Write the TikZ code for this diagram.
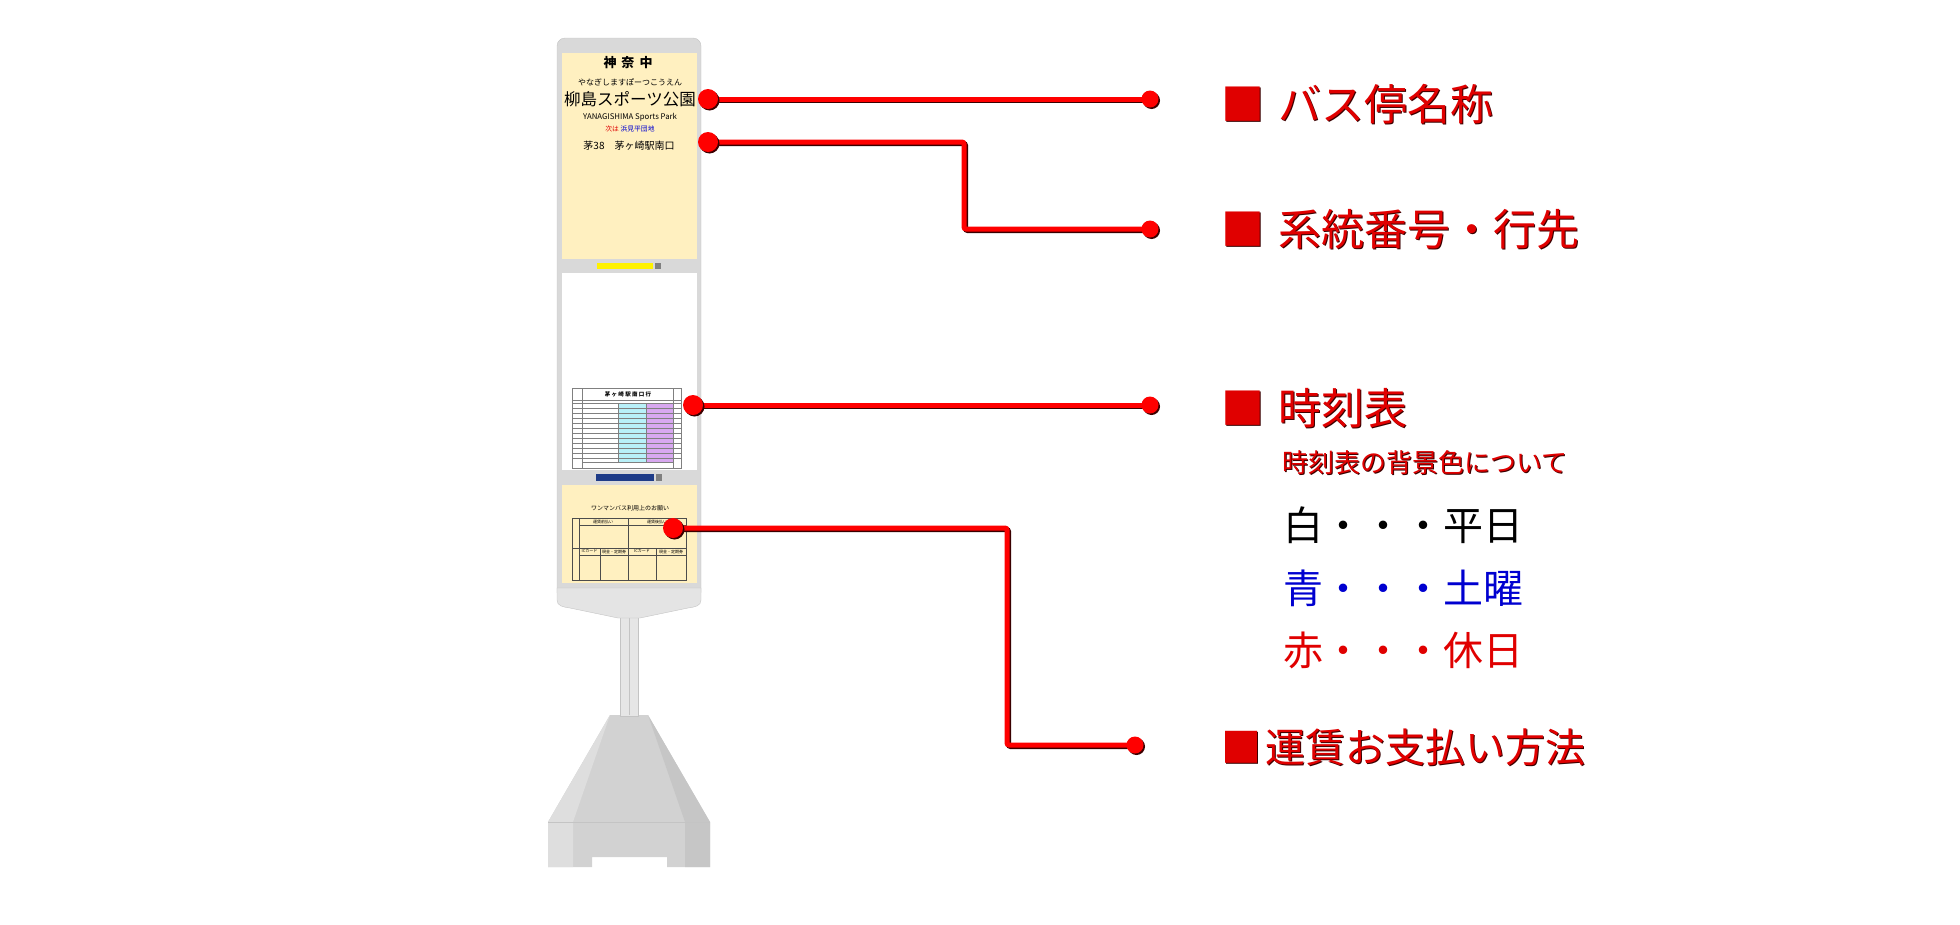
\documentclass[tikz,border=0pt]{standalone}
\usepackage{fontspec}
\newfontfamily\jp{Noto Sans CJK JP}
\usepackage{tikz}
\usetikzlibrary{shadows}
\definecolor{linered}{HTML}{FF0000}
\definecolor{textred}{HTML}{E00000}
\definecolor{shadowred}{HTML}{3A0000}
\definecolor{dayblue}{HTML}{0000D0}
\definecolor{signyellow}{HTML}{FFF0C0}
\definecolor{framegray}{HTML}{D9D9D9}
\definecolor{capgray}{HTML}{E4E4E4}
\definecolor{edgegray}{HTML}{C4C4C4}
\definecolor{postgray}{HTML}{E6E6E6}
\definecolor{baseleft}{HTML}{DEDEDE}
\definecolor{basemid}{HTML}{D2D2D2}
\definecolor{baseright}{HTML}{C6C6C6}
\definecolor{ttcyan}{HTML}{B8F0F8}
\definecolor{ttpurple}{HTML}{D8A8F0}
\definecolor{banneryellow}{HTML}{FFF200}
\definecolor{bannerblue}{HTML}{1F3C88}

\begin{document}
\begin{tikzpicture}[x=1pt, y=-1pt,
    leader/.style={draw=linered, line width=5pt, rounded corners=2pt,
      preaction={draw=shadowred, line width=5pt,
        transform canvas={shift={(1.5pt,-1.5pt)}}}},
    startdot/.style={circle, fill=linered, minimum size=20pt, inner sep=0pt,
      drop shadow={shadow xshift=1.5pt, shadow yshift=-1.5pt,
        fill=shadowred, opacity=1}},
    enddot/.style={startdot, minimum size=17pt},
    heading/.style={font=\jp\fontsize{43}{43}\selectfont,
      text=textred, anchor=west, inner sep=0pt},
    headshadow/.style={heading, text=shadowred},
    daynote/.style={font=\jp\fontsize{40}{40}\selectfont, anchor=west, inner sep=0pt},
    tinytext/.style={font=\jp\fontsize{4}{4}\selectfont, inner sep=0pt}
  ]
  \useasboundingbox (0,0) rectangle (1960,924);

  % Base
  \fill[basemid] (610,715) -- (648,715) -- (710,822) -- (710,867) -- (667,867)
    -- (667,857) -- (592,857) -- (592,867) -- (548,867) -- (548,822) -- cycle;
  \fill[baseleft] (610,715) -- (548,822) -- (548,867) -- (573,867) -- (573,822) -- cycle;
  \fill[baseright] (648,715) -- (710,822) -- (710,867) -- (685,867) -- (685,822) -- cycle;
  \draw[edgegray, line width=0.5pt] (548,822) -- (710,822);

  % Post
  \filldraw[fill=postgray, draw=edgegray] (620,612) rectangle (638,716);
  \draw[edgegray, line width=0.3pt] (629,618) -- (629,715);

  % Sign frame
  \filldraw[fill=framegray, draw=edgegray, rounded corners=8pt]
    (557,600) -- (557,38) -- (701,38) -- (701,600) -- cycle;
  \filldraw[fill=capgray, draw=edgegray]
    (557,588) -- (701,588) -- (701,600) .. controls (701,606) and (695,607) .. (688,608)
    -- (640,618) -- (618,618) -- (570,608) .. controls (563,607) and (557,606) .. (557,600) -- cycle;

  % Panels
  \fill[signyellow] (562,53) rectangle (697,259);
  \fill[white] (562,273) rectangle (697,470);
  \fill[signyellow] (562,485) rectangle (697,583);

  % Stop name panel
  \node[font=\jp\bfseries\fontsize{13}{13}\selectfont] (company) at (628,63)
    {神\hspace{5pt}奈\hspace{5pt}中};
  \node[font=\jp\fontsize{8}{8}\selectfont] (kana) at (630,82) {やなぎしますぽーつこうえん};
  \node[font=\jp\fontsize{16.5}{16.5}\selectfont] (stopname) at (630,99) {柳島スポーツ公園};
  \node[font=\jp\fontsize{7.8}{7.8}\selectfont] (roman) at (630,117) {YANAGISHIMA Sports Park};
  \node[font=\jp\fontsize{6.8}{6.8}\selectfont] (nextstop) at (630,129)
    {\textcolor{textred}{次は}\ \textcolor{dayblue}{浜見平団地}};
  \node[font=\jp\fontsize{10}{10}\selectfont] (route) at (629,146) {茅38　茅ヶ崎駅南口};

  % Banners
  \fill[banneryellow] (597,263) rectangle (653,269);
  \fill[gray] (655,263) rectangle (661,269);
  \fill[bannerblue] (596,474) rectangle (654,481);
  \fill[gray] (656,474) rectangle (662,481);

  % Timetable
  \fill[ttcyan] (618,403) rectangle (646,462);
  \fill[ttpurple] (646,403) rectangle (673,462);
  \draw[gray, line width=0.4pt] (572,388) rectangle (681,468);
  \draw[gray, line width=0.4pt] (582,388) -- (582,468) (673,388) -- (673,468)
    (572,400) -- (681,400) (572,403) -- (681,403) (582,462) -- (673,462)
    (618,403) -- (618,462) (646,403) -- (646,462);
  \foreach \y in {408,413,...,458}
    \draw[gray, line width=0.3pt] (572,\y) -- (681,\y);
  \node[font=\jp\bfseries\fontsize{5.5}{5.5}\selectfont] (ttitle) at (628,394)
    {茅 ヶ 崎 駅 南 口 行};

  % Fare panel
  \node[font=\jp\fontsize{6}{6}\selectfont] (faretitle) at (630,508) {ワンマンバス利用上のお願い};
  \draw[black!70, line width=0.4pt] (572,518) rectangle (686,580);
  \draw[black!70, line width=0.4pt] (579,518) -- (579,580) (628,518) -- (628,580)
    (579,525) -- (686,525) (572,548) -- (686,548) (579,555) -- (686,555)
    (600,548) -- (600,580) (656,548) -- (656,580);
  \node[tinytext] (prepay) at (603,521.5) {運賃前払い};
  \node[tinytext] (postpay) at (657,521.5) {運賃後払い};
  \node[tinytext] (ic1) at (589.5,551.5) {ICカード};
  \node[tinytext] (cash1) at (614,551.5) {現金・定期券};
  \node[tinytext] (ic2) at (642,551.5) {ICカード};
  \node[tinytext] (cash2) at (671,551.5) {現金・定期券};

  % Leader lines
  \coordinate (k2) at (964,185);
  \coordinate (k4) at (1007,640);
  \coordinate (s1) at (708,99);
  \coordinate (e1) at (1150,99);
  \coordinate (s2) at (708,142);
  \coordinate (e2) at (1150,229);
  \coordinate (s3) at (693,405);
  \coordinate (e3) at (1150,405);
  \coordinate (s4) at (673,528);
  \coordinate (e4) at (1135,745);
  \draw[leader] (s1) -- (e1);
  \draw[leader] (s2) -| (k2) |- (e2);
  \draw[leader] (s3) -- (e3);
  \draw[leader] (s4) -| (k4) |- (e4);
  \node[startdot] (d1) at (s1) {};
  \node[enddot] (f1) at (e1) {};
  \node[startdot] (d2) at (s2) {};
  \node[enddot] (f2) at (e2) {};
  \node[startdot] (d3) at (s3) {};
  \node[enddot] (f3) at (e3) {};
  \node[startdot] (d4) at (s4) {};
  \node[enddot] (f4) at (e4) {};

  % Headings
  \node[headshadow] (h1s) at (1222.5,105.5) {■\hspace{14pt}バス停名称};
  \node[heading] (h1) at (1221,104) {■\hspace{14pt}バス停名称};
  \node[headshadow] (h2s) at (1222.5,230.5) {■\hspace{14pt}系統番号・行先};
  \node[heading] (h2) at (1221,229) {■\hspace{14pt}系統番号・行先};
  \node[headshadow] (h3s) at (1222.5,409.5) {■\hspace{14pt}時刻表};
  \node[heading] (h3) at (1221,408) {■\hspace{14pt}時刻表};
  \node[font=\jp\fontsize{26}{26}\selectfont, text=shadowred, anchor=west, inner sep=0pt]
    (colornotes) at (1283,464) {時刻表の背景色について};
  \node[font=\jp\fontsize{26}{26}\selectfont, text=textred, anchor=west, inner sep=0pt]
    (colornote) at (1282,463) {時刻表の背景色について};
  \node[daynote] (weekday) at (1283,525) {白・・・平日};
  \node[daynote, text=dayblue] (saturday) at (1283,588) {青・・・土曜};
  \node[daynote, text=textred] (holiday) at (1283,650) {赤・・・休日};
  \node[headshadow, font=\jp\fontsize{40}{40}\selectfont] (h4s) at (1222.5,748.5)
    {■\hspace{4pt}運賃お支払い方法};
  \node[heading, font=\jp\fontsize{40}{40}\selectfont] (h4) at (1221,747)
    {■\hspace{4pt}運賃お支払い方法};
\end{tikzpicture}
\end{document}
